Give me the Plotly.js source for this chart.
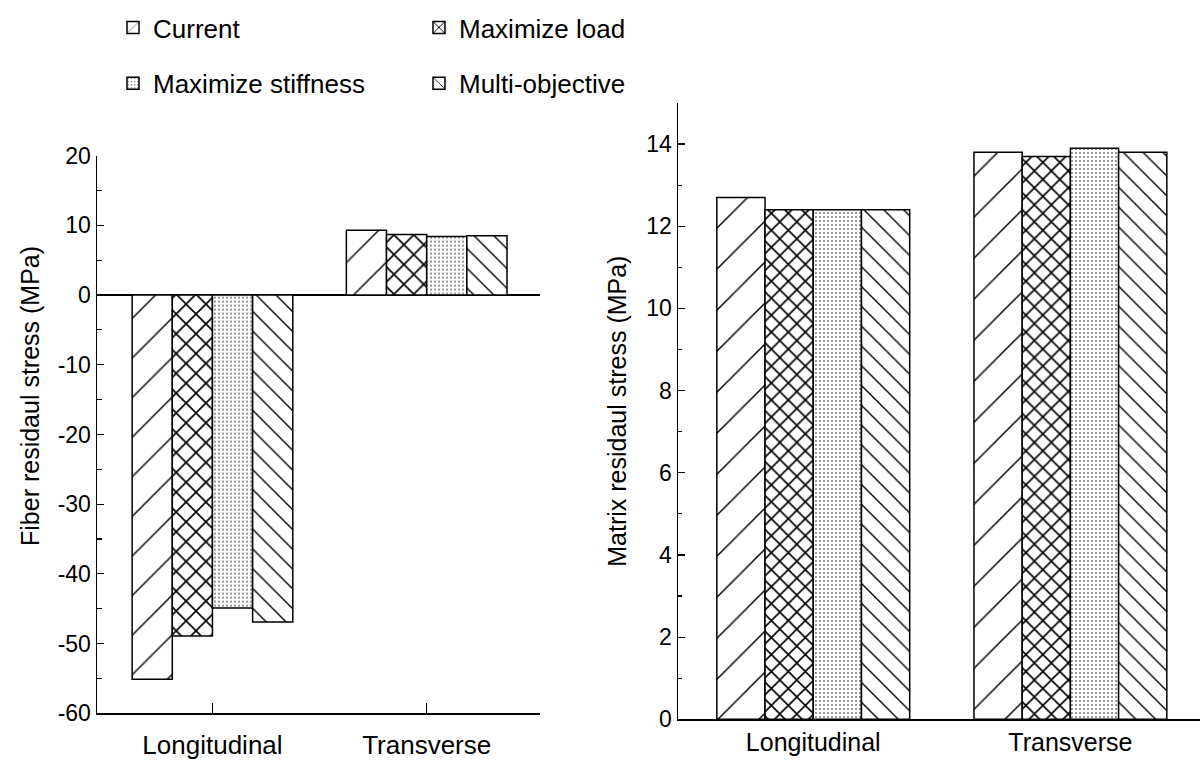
<!DOCTYPE html>
<html>
<head>
<meta charset="utf-8">
<script src="https://cdn.plot.ly/plotly-3.0.1.min.js"></script>
<style>html,body{margin:0;padding:0;background:#fff;}</style>
</head>
<body>
<div id="chart" style="width:1200px;height:761px;"></div>
<script>
// ---- data ----
const categories = ['Longitudinal', 'Transverse'];
const seriesNames = ['Current', 'Maximize load', 'Maximize stiffness', 'Multi-objective'];

const fiberCurrent = [-55.1, 9.3];
const fiberLoad = [-48.9, 8.7];
const fiberStiffness = [-44.9, 8.4];
const fiberMulti = [-46.9, 8.5];

const matrixCurrent = [12.7, 13.8];
const matrixLoad = [12.4, 13.7];
const matrixStiffness = [12.4, 13.9];
const matrixMulti = [12.4, 13.8];

const fiberTickVals = [20, 10, 0, -10, -20, -30, -40, -50, -60];
const fiberTickText = ['20', '10', '0', '-10', '-20', '-30', '-40', '-50', '-60'];
const matrixTickVals = [0, 2, 4, 6, 8, 10, 12, 14];
const matrixTickText = ['0', '2', '4', '6', '8', '10', '12', '14'];

const fiberTitle = 'Fiber residaul stress (MPa)';
const matrixTitle = 'Matrix residaul stress (MPa)';

// ---- styles ----
const fiberSeries = [fiberCurrent, fiberLoad, fiberStiffness, fiberMulti];
const matrixSeries = [matrixCurrent, matrixLoad, matrixStiffness, matrixMulti];
const patternsLeft = [
  {shape: '/', size: 28, solidity: 0.05},
  {shape: 'x', size: 14, solidity: 0.22},
  {shape: '.', size: 4, solidity: 0.11},
  {shape: '\\', size: 14, solidity: 0.1}
];
const patternsRight = [
  {shape: '/', size: 29, solidity: 0.05},
  {shape: 'x', size: 12, solidity: 0.25},
  {shape: '.', size: 4, solidity: 0.11},
  {shape: '\\', size: 14, solidity: 0.1}
];
const legendFor = ['legend', 'legend2', 'legend', 'legend2'];

function marker(p) {
  return {
    color: 'white',
    line: {color: 'black', width: 1.5},
    pattern: {shape: p.shape, size: p.size, solidity: p.solidity,
              fgcolor: 'black', bgcolor: 'white', fgopacity: 1, fillmode: 'replace'}
  };
}

const traces = [];
seriesNames.forEach((name, i) => {
  traces.push({
    type: 'bar', x: categories, y: fiberSeries[i], name: name,
    xaxis: 'x', yaxis: 'y', legend: legendFor[i], legendgroup: name,
    marker: marker(patternsLeft[i]), hoverinfo: 'name+y'
  });
});
seriesNames.forEach((name, i) => {
  traces.push({
    type: 'bar', x: categories, y: matrixSeries[i], name: name,
    xaxis: 'x2', yaxis: 'y2', legendgroup: name, showlegend: false,
    marker: marker(patternsRight[i]), hoverinfo: 'name+y'
  });
});

const axisCommon = {
  showline: true, linecolor: 'black', linewidth: 1.5,
  showgrid: false, tickcolor: 'black', tickwidth: 1.2, automargin: false
};

const layout = {
  width: 1200, height: 761,
  margin: {l: 0, r: 0, t: 0, b: 0},
  paper_bgcolor: 'white', plot_bgcolor: 'rgba(0,0,0,0)',
  font: {family: 'Liberation Sans, Arial, sans-serif', color: 'black', size: 24},
  barmode: 'group', bargap: 0.25, bargroupgap: 0,
  showlegend: true,
  xaxis: Object.assign({}, axisCommon, {
    domain: [97 / 1200, 540 / 1200], anchor: 'y', type: 'category',
    range: [-0.539, 1.529], ticks: 'inside', ticklen: 10,
    zeroline: false, tickfont: {size: 26}, ticklabelstandoff: 8, tickangle: 0
  }),
  yaxis: Object.assign({}, axisCommon, {
    domain: [1 - 713.3 / 761, 1 - 155.6 / 761], anchor: 'x',
    range: [-60, 20], tickmode: 'array', tickvals: fiberTickVals, ticktext: fiberTickText,
    ticks: 'inside', ticklen: 7,
    minor: {tickmode: 'linear', tick0: 0, dtick: 5, ticks: 'inside', ticklen: 5, tickcolor: 'black', showgrid: false},
    zeroline: true, zerolinecolor: 'black', zerolinewidth: 1.6,
    tickfont: {size: 23}
  }),
  xaxis2: Object.assign({}, axisCommon, {
    domain: [678 / 1200, 1], anchor: 'y2', type: 'category',
    range: [-0.526, 1.504], ticks: 'inside', ticklen: 10,
    zeroline: false, tickfont: {size: 25}, ticklabelstandoff: 0, tickangle: 0
  }),
  yaxis2: Object.assign({}, axisCommon, {
    domain: [1 - 719.3 / 761, 1 - 103 / 761], anchor: 'x2',
    range: [0, 15], tickmode: 'array', tickvals: matrixTickVals, ticktext: matrixTickText,
    ticks: 'inside', ticklen: 7,
    minor: {tickmode: 'linear', tick0: 0, dtick: 1, ticks: 'inside', ticklen: 4, tickcolor: 'black', showgrid: false},
    zeroline: false,
    tickfont: {size: 23},
    title: {text: matrixTitle, font: {size: 25}, standoff: 12}
  }),
  annotations: [{
    text: fiberTitle, textangle: -90, showarrow: false,
    xref: 'paper', yref: 'paper', x: 30 / 1200, y: 1 - 396 / 761,
    xanchor: 'center', yanchor: 'middle', font: {size: 25}
  }],
  legend: {
    x: 113 / 1200, y: 1 - 4 / 761,
    xanchor: 'left', yanchor: 'top', font: {size: 26},
    tracegroupgap: 19, bgcolor: 'rgba(0,0,0,0)', borderwidth: 0
  },
  legend2: {
    x: 419 / 1200, y: 1 - 4 / 761,
    xanchor: 'left', yanchor: 'top', font: {size: 26},
    tracegroupgap: 19, bgcolor: 'rgba(0,0,0,0)', borderwidth: 0
  }
};

Plotly.newPlot('chart', traces, layout, {displayModeBar: false, staticPlot: true});
</script>
</body>
</html>
